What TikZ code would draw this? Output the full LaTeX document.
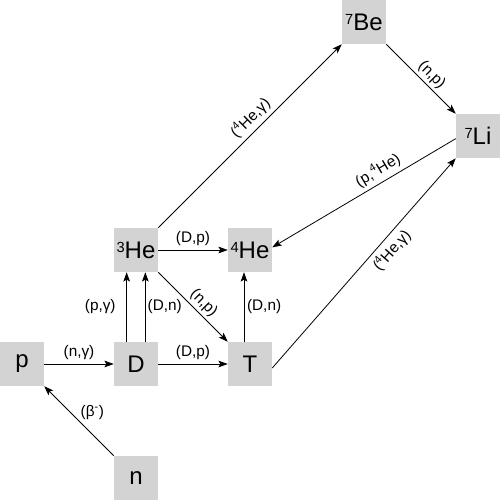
\documentclass[tikz,border=0pt]{standalone}
\usepackage{fontspec}
\setmainfont{Liberation Sans}
\usetikzlibrary{arrows.meta}

\definecolor{boxgray}{RGB}{211,211,211}

% mass number in front of a nucleus
\newcommand{\massno}[1]{\raisebox{4.5pt}{\fontsize{11}{11}\selectfont #1}}

\tikzset{
  nucl/.style={fill=boxgray, minimum size=33pt, inner sep=0pt, font=\fontsize{18}{20}\selectfont},
  react/.style={->, line width=0.6pt},
  lbl/.style={font=\fontsize{11.5}{13}\selectfont, inner sep=1pt},
}

\begin{document}
\begin{tikzpicture}[x=85.5pt, y=85.5pt, >={Stealth[length=7pt,width=5pt,inset=1.5pt]}]

  \useasboundingbox (-0.193,-0.193) rectangle (4.193,4.193);

  % nuclei
  \node[nucl] (p)   at (0,1) {p};
  \node[nucl] (D)   at (1,1) {D};
  \node[nucl] (T)   at (2,1) {T};
  \node[nucl] (n)   at (1,0) {n};
  \node[nucl] (He3) at (1,2) {\massno{3}He};
  \node[nucl] (He4) at (2,2) {\massno{4}He};
  \node[nucl] (Be7) at (3,4) {\massno{7}Be};
  \node[nucl] (Li7) at (4,3) {\massno{7}Li};

  % reactions
  \draw[react] (n) -- node[lbl, above right] {(β\textsuperscript{-})} (p);
  \draw[react] (p) -- node[lbl, above=2pt] {(n,γ)} (D);
  \draw[react] (D) -- node[lbl, above=2pt] {(D,p)} (T);
  \draw[react] ([xshift=-7pt]D.north) -- node[lbl, left=7pt] {(p,γ)} ([xshift=-7pt]He3.south);
  \draw[react] ([xshift=7pt]D.north) -- node[lbl, right=0.5pt] {(D,n)} ([xshift=7pt]He3.south);
  \draw[react] (He3) -- node[lbl, above=2pt] {(D,p)} (He4);
  \draw[react] (He3) -- node[lbl, sloped, above=1pt, pos=0.55] {(n,p)} (T);
  \draw[react] ([xshift=-4.5pt]T.north) -- node[lbl, right=1pt] {(D,n)} ([xshift=-4.5pt]He4.south);
  \draw[react] (He3) -- node[lbl, sloped, above=2pt, pos=0.55] {(\textsuperscript{4}He,γ)} (Be7);
  \draw[react] (Be7) -- node[lbl, sloped, above=1pt, pos=0.55] {(n,p)} (Li7);
  \draw[react] ([yshift=-2pt]Li7.west) -- node[lbl, sloped, above=2pt, pos=0.39] {(p,\textsuperscript{4}He)} ([yshift=2pt]He4.east);
  \draw[react] ([yshift=-3pt]T.east) -- node[lbl, sloped, below=2pt, pos=0.6] {(\textsuperscript{4}He,γ)} (Li7.south west);

\end{tikzpicture}
\end{document}
